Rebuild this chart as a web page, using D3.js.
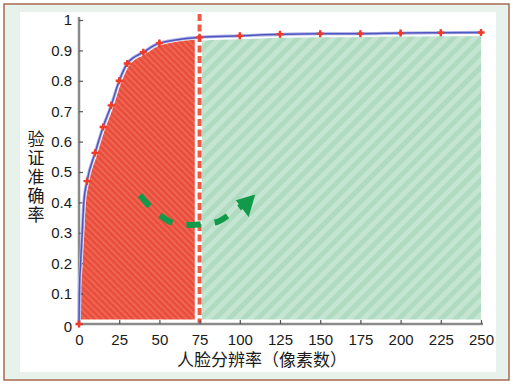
<!DOCTYPE html>
<html><head><meta charset="utf-8">
<script src="https://cdn.jsdelivr.net/npm/d3@7/dist/d3.min.js"></script>
<style>
html,body{margin:0;padding:0;background:#fff;}
svg{display:block;}
</style></head>
<body>
<script>
// ---- data ----
const resolution = [0, 0.2, 1, 2, 3, 5, 10, 15, 20, 25, 30, 40, 50, 75, 100, 125, 150, 175, 200, 225, 250];
const accuracy   = [0, 0.1, 0.2, 0.3, 0.4, 0.47, 0.563, 0.648, 0.719, 0.80, 0.857, 0.894, 0.924, 0.943, 0.948, 0.953, 0.955, 0.955, 0.957, 0.958, 0.959];
const hasMarker  = [1, 0, 0, 0, 0, 1, 1, 1, 1, 1, 1, 1, 1, 1, 1, 1, 1, 1, 1, 1, 1];
const xTicks = [0, 25, 50, 75, 100, 125, 150, 175, 200, 225, 250];
const yTicks = [0, 0.1, 0.2, 0.3, 0.4, 0.5, 0.6, 0.7, 0.8, 0.9, 1];
const threshold = 75;
const redRange = [0, 72];
const greenRange = [76.5, 250];
const areaFloor = 0.015;
const arrowX = [38, 44.3, 51.1, 58.6, 69.2, 77.3, 86, 94.1, 101.5];
const arrowY = [0.424, 0.385, 0.355, 0.332, 0.326, 0.329, 0.336, 0.362, 0.39];
const headX = [109.6, 97.5, 105.5];
const headY = [0.426, 0.407, 0.352];
const xTitle = "人脸分辨率（像素数）";
const yTitle = "验证准确率";

const W = 513, H = 384;
const svg = d3.select("body").append("svg").attr("width", W).attr("height", H);

// frame
svg.append("rect").attr("x", 4).attr("y", 4).attr("width", 505).attr("height", 376)
  .attr("fill", "#e7f2ec").attr("stroke", "#a8694c").attr("stroke-width", 1.5);
svg.append("rect").attr("x", 20).attr("y", 12).attr("width", 476).attr("height", 360).attr("fill", "#fff");

const x = d3.scaleLinear().domain([0, 250]).range([79, 481]);
const y = d3.scaleLinear().domain([0, 1]).range([324, 20]);

// patterns
const defs = svg.append("defs");
function stripes(id, base, stripe, size, angle, sw) {
  const p = defs.append("pattern").attr("id", id).attr("patternUnits", "userSpaceOnUse")
    .attr("width", size).attr("height", size).attr("patternTransform", `rotate(${angle})`);
  p.append("rect").attr("width", size).attr("height", size).attr("fill", base);
  p.append("rect").attr("width", sw).attr("height", size).attr("fill", stripe);
}
stripes("redHatch", "#e84c3a", "#ef6654", 4.5, -45, 2);
stripes("greenHatch", "#b1dbc1", "#c4e5d1", 10, 45, 5);

const pts = resolution.map((r, i) => [r, accuracy[i]]);

function clipRect(id, r) {
  defs.append("clipPath").attr("id", id).append("rect")
    .attr("x", x(r[0])).attr("y", 0).attr("width", x(r[1]) - x(r[0])).attr("height", y(areaFloor));
}
clipRect("clipRed", redRange);
clipRect("clipGreen", greenRange);

function shiftedArea(dx, dy) {
  return d3.area().x(d => x(d[0]) + dx).y0(y(0) + 10).y1(d => y(d[1]) + dy).curve(d3.curveMonotoneX);
}
svg.append("path").datum(pts).attr("d", shiftedArea(2, 2)).attr("fill", "url(#redHatch)").attr("clip-path", "url(#clipRed)");
svg.append("path").datum(pts).attr("d", shiftedArea(0, 3.5)).attr("fill", "url(#greenHatch)").attr("clip-path", "url(#clipGreen)");

// threshold dashed line
svg.append("line").attr("x1", x(threshold)).attr("x2", x(threshold)).attr("y1", 14).attr("y2", y(0))
  .attr("stroke", "#ee5a46").attr("stroke-width", 4).attr("stroke-dasharray", "7,3.5");

// axes
const xAxis = d3.axisBottom(x).tickValues(xTicks).tickSizeInner(-4).tickSizeOuter(0).tickPadding(10).tickFormat(d3.format("d"));
const gx = svg.append("g").attr("transform", `translate(0,${y(0)})`).call(xAxis);
const yAxis = d3.axisLeft(y).tickValues(yTicks).tickSizeInner(-4).tickSizeOuter(0).tickPadding(7)
  .tickFormat(d => (d === 0 || d === 1) ? String(d) : d3.format(".1f")(d));
const gy = svg.append("g").attr("transform", `translate(${x(0)},0)`).call(yAxis);
gx.select(".domain").attr("d", `M${x(0)},0H${x(250) + 2}`);
gy.select(".domain").attr("d", `M0,${y(0)}V${y(1) - 3}`);
[gx, gy].forEach(g => {
  g.select(".domain").attr("stroke", "#8a8a8a").attr("stroke-width", 2.5);
  g.selectAll(".tick line").attr("stroke", "#555").attr("stroke-width", 1.2);
  g.selectAll(".tick text").attr("fill", "#1a1a1a").style("font-family", "'Liberation Sans', Arial, sans-serif").style("font-size", "15px");
});
gy.selectAll(".tick text").filter(d => d === 0).attr("dy", "0.5em");

// curve
const line = d3.line().x(d => x(d[0])).y(d => y(d[1])).curve(d3.curveMonotoneX);
svg.append("path").datum(pts).attr("d", line).attr("fill", "none").attr("stroke", "#b3b6e6").attr("stroke-width", 3.2);
svg.append("path").datum(pts).attr("d", line).attr("fill", "none").attr("stroke", "#5056bf").attr("stroke-width", 1.5);

// markers
const mk = svg.append("g").selectAll("g").data(pts.filter((d, i) => hasMarker[i])).join("g")
  .attr("transform", d => `translate(${x(d[0])},${y(d[1])})`);
mk.append("path").attr("d", d3.symbol(d3.symbolCross, 28)).attr("fill", "#f03a2a");
mk.append("path").attr("d", d3.symbol(d3.symbolDiamond, 14)).attr("fill", "#f03a2a");

// green arrow
const arrowPts = arrowX.map((v, i) => [v, arrowY[i]]);
svg.append("path").datum(arrowPts).attr("d", d3.line().x(d => x(d[0])).y(d => y(d[1])).curve(d3.curveCatmullRom))
  .attr("fill", "none").attr("stroke", "#109a49").attr("stroke-width", 6).attr("stroke-dasharray", "14.5,14");
svg.append("path").datum(headX.map((v, i) => [v, headY[i]]))
  .attr("d", d3.line().x(d => x(d[0])).y(d => y(d[1])).curve(d3.curveLinearClosed))
  .attr("fill", "#109a49");

// titles
svg.append("text").attr("x", 262).attr("y", 366).attr("text-anchor", "middle")
  .style("font-family", "'Noto Sans CJK SC', sans-serif").style("font-size", "17px").attr("fill", "#1a1a1a")
  .text(xTitle);
svg.append("text").attr("x", 36).attr("y", 178).attr("text-anchor", "middle")
  .style("font-family", "'Noto Sans CJK SC', sans-serif").style("font-size", "17px")
  .style("writing-mode", "vertical-rl").style("text-orientation", "upright").style("letter-spacing", "2px")
  .attr("fill", "#1a1a1a").text(yTitle);
</script>
</body></html>
